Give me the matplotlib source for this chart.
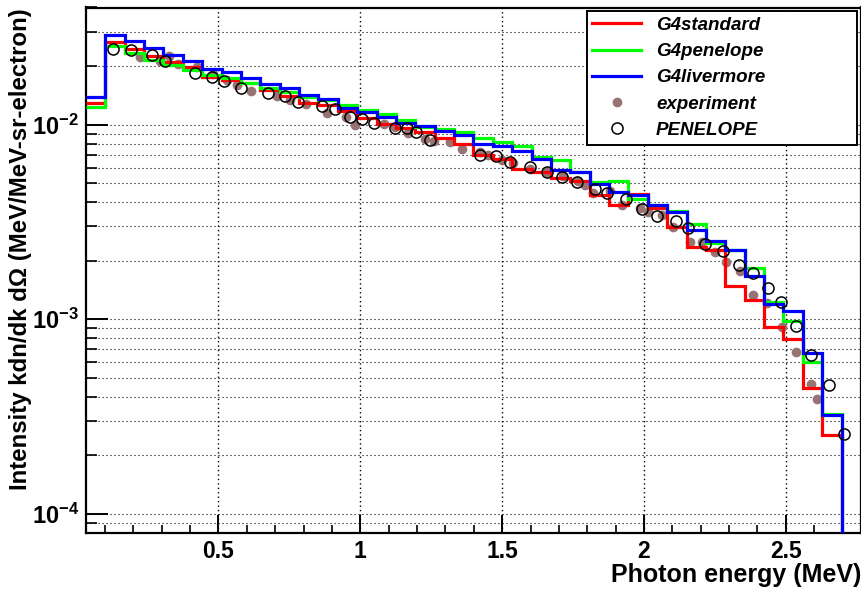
import numpy as np
import matplotlib
matplotlib.use("Agg")
import matplotlib.pyplot as plt
from matplotlib.ticker import FixedLocator, NullFormatter, FuncFormatter, MultipleLocator, LogLocator
from matplotlib.lines import Line2D

plt.rcParams['font.family'] = ['Liberation Sans', 'DejaVu Sans']
plt.rcParams['font.weight'] = 'bold'
plt.rcParams['mathtext.fontset'] = 'custom'
plt.rcParams['mathtext.rm'] = 'Liberation Sans:bold'
plt.rcParams['mathtext.bf'] = 'Liberation Sans:bold'
plt.rcParams['mathtext.it'] = 'Liberation Sans:bold:italic'

# ---- data ----
hist_range = (0.033, 2.765)
n_bins = 40

g4standard = [0.01285, 0.02667, 0.02455, 0.02252, 0.02104, 0.01989, 0.01762, 0.01694,
              0.01629, 0.01505, 0.01410, 0.01298, 0.01260, 0.01173, 0.01076, 0.01002,
              0.00956, 0.00912, 0.00849, 0.00791, 0.00697, 0.00670, 0.00590, 0.00572,
              0.00534, 0.00512, 0.00434, 0.00385, 0.00442, 0.00374, 0.00297, 0.00236,
              0.00227, 0.00149, 0.00126, 0.000911, 0.000793, 0.000444, 0.000254, 0.0]
g4penelope = [0.01226, 0.02550, 0.02325, 0.02148, 0.02024, 0.01908, 0.01798, 0.01729,
              0.01641, 0.01547, 0.01479, 0.01390, 0.01337, 0.01260, 0.01187, 0.01128,
              0.01055, 0.00971, 0.00948, 0.00918, 0.00849, 0.00810, 0.00778, 0.00683,
              0.00657, 0.00572, 0.00508, 0.00512, 0.00414, 0.00385, 0.00361, 0.00307,
              0.00246, 0.00226, 0.00184, 0.00122, 0.000978, 0.000601, 0.000326, 0.0]
g4livermore = [0.01390, 0.02899, 0.02683, 0.02467, 0.02279, 0.02135, 0.01935, 0.01859,
               0.01735, 0.01626, 0.01542, 0.01414, 0.01353, 0.01212, 0.01160, 0.01097,
               0.01014, 0.00982, 0.00926, 0.00883, 0.00800, 0.00778, 0.00731, 0.00665,
               0.00583, 0.00569, 0.00498, 0.00451, 0.00434, 0.00388, 0.00356, 0.00286,
               0.00251, 0.00226, 0.00167, 0.00120, 0.00110, 0.000672, 0.000322, 0.0]

exp_E = [0.224, 0.295, 0.327, 0.358, 0.425, 0.482, 0.531, 0.566, 0.616, 0.707, 0.753,
         0.809, 0.883, 0.950, 0.982, 1.084, 1.123, 1.169, 1.229, 1.260, 1.317, 1.359,
         1.422, 1.450, 1.500, 1.539, 1.598, 1.658, 1.715, 1.767, 1.792, 1.820, 1.880,
         1.923, 1.986, 2.014, 2.063, 2.102, 2.162, 2.204, 2.250, 2.289, 2.338, 2.384,
         2.433, 2.486, 2.536, 2.588, 2.610]
exp_I = [0.02233, 0.02130, 0.02241, 0.02048, 0.01984, 0.01820, 0.01694, 0.01597, 0.01487,
         0.01402, 0.01337, 0.01275, 0.01146, 0.01093, 0.00994, 0.01006, 0.00971, 0.00904,
         0.00842, 0.00822, 0.00813, 0.00748, 0.00722, 0.00697, 0.00657, 0.00632, 0.00590,
         0.00569, 0.00543, 0.00512, 0.00488, 0.00444, 0.00455, 0.00385, 0.00372, 0.00355,
         0.00342, 0.00297, 0.00249, 0.00249, 0.00221, 0.00196, 0.00178, 0.00133, 0.00121,
         0.000907, 0.000675, 0.000467, 0.000391]

pen_E = [0.127, 0.192, 0.266, 0.313, 0.416, 0.477, 0.521, 0.579, 0.673, 0.735, 0.780,
         0.865, 0.911, 0.962, 1.006, 1.050, 1.123, 1.164, 1.197, 1.246, 1.421, 1.478,
         1.528, 1.598, 1.659, 1.710, 1.763, 1.826, 1.869, 1.937, 1.992, 2.045, 2.113,
         2.156, 2.215, 2.277, 2.334, 2.384, 2.436, 2.483, 2.536, 2.589, 2.653, 2.705]
pen_I = [0.02438, 0.02417, 0.02279, 0.02122, 0.01848, 0.01762, 0.01675, 0.01547, 0.01458,
         0.01407, 0.01311, 0.01250, 0.01197, 0.01089, 0.01067, 0.01014, 0.00963, 0.00956,
         0.00918, 0.00832, 0.00702, 0.00693, 0.00646, 0.00607, 0.00572, 0.00539, 0.00510,
         0.00467, 0.00446, 0.00414, 0.00370, 0.00339, 0.00320, 0.00296, 0.00243, 0.00224,
         0.00189, 0.00173, 0.00144, 0.00122, 0.000918, 0.000653, 0.000458, 0.000257]

x_major = [0.5, 1.0, 1.5, 2.0, 2.5]
x_major_labels = ['0.5', '1', '1.5', '2', '2.5']
y_major = [1e-4, 1e-3, 1e-2]

# ---- figure ----
fig = plt.figure(figsize=(8.62, 5.92), dpi=100)
ax = fig.add_axes([86 / 862, 59.3 / 592, 775 / 862, 525.2 / 592])
ax.set_yscale('log')

edges = np.linspace(hist_range[0], hist_range[1], n_bins + 1)

ax.plot(exp_E, exp_I, 'o', color='#987373', markersize=7, markeredgewidth=0,
        zorder=2, label='experiment')
ax.stairs(g4standard, edges, color='#ff0000', lw=2.3, baseline=None, zorder=3,
          label='G4standard')
ax.stairs(g4penelope, edges, color='#00ff00', lw=2.3, baseline=None, zorder=3,
          label='G4penelope')
ax.stairs(g4livermore, edges, color='#0000ff', lw=2.3, baseline=None, zorder=3,
          label='G4livermore')
ax.plot(pen_E, pen_I, 'o', mfc='none', mec='black', markersize=8, markeredgewidth=1.1,
        zorder=4, label='PENELOPE')

ax.set_xlim(*hist_range)
ax.set_ylim(8e-5, 0.04)

# ticks
ax.xaxis.set_major_locator(FixedLocator(x_major))
ax.set_xticklabels(x_major_labels)
ax.xaxis.set_minor_locator(MultipleLocator(0.1))
ax.yaxis.set_major_locator(FixedLocator(y_major))
ax.yaxis.set_minor_locator(LogLocator(base=10, subs=np.arange(2, 10)))
ax.yaxis.set_minor_formatter(NullFormatter())
ax.yaxis.set_major_formatter(FuncFormatter(
    lambda v, p: r'$\mathbf{10^{%d}}$' % int(round(np.log10(v)))))

ax.tick_params(axis='x', which='major', direction='in', length=13, width=1.4,
               labelsize=16.5, pad=5, top=False)
ax.tick_params(axis='x', which='minor', direction='in', length=6, width=1.2, top=False)
ax.tick_params(axis='y', which='major', direction='in', length=16, width=1.4,
               labelsize=17, pad=5, right=False)
ax.tick_params(axis='y', which='minor', direction='in', length=8, width=1.2, right=False)
for lab in ax.get_xticklabels() + ax.get_yticklabels():
    lab.set_fontweight('bold')

for sp in ax.spines.values():
    sp.set_linewidth(1.6)

ax.grid(True, which='major', axis='x', color='black', linestyle=(0, (1, 2.2)), lw=1.0)
ax.grid(True, which='both', axis='y', color='black', linestyle=(0, (1, 2.6)), lw=0.8)
ax.set_axisbelow(True)

fig.text(861 / 862, 1 - 575 / 592, 'Photon energy (MeV)', ha='right', va='center',
         fontsize=18, fontweight='bold')
fig.text(21 / 862, 1 - 8 / 592, 'Intensity kdn/dk d\u03a9 (MeV/MeV-sr-electron)',
         ha='center', va='top', rotation=90, fontsize=17.3, fontweight='bold')

order = ['G4standard', 'G4penelope', 'G4livermore', 'experiment', 'PENELOPE']
leg_handles = [Line2D([], [], color='#ff0000', lw=2.3),
               Line2D([], [], color='#00ff00', lw=2.3),
               Line2D([], [], color='#0000ff', lw=2.3),
               Line2D([], [], ls='none', marker='o', color='#987373', markersize=7,
                      markeredgewidth=0),
               Line2D([], [], ls='none', marker='o', mfc='none', mec='black',
                      markersize=8, markeredgewidth=1.1)]
leg = ax.legend(leg_handles, order, loc='upper left', mode='expand',
                bbox_to_anchor=(586.7 / 862, (592 - 141.7) / 592, (857.3 - 586.7) / 862, 130.7 / 592),
                bbox_transform=fig.transFigure, borderaxespad=0, fancybox=False,
                framealpha=1, edgecolor='black', handlelength=2.6, handletextpad=0.8,
                borderpad=0.3, labelspacing=0.49,
                prop={'family': 'Liberation Sans', 'weight': 'bold', 'style': 'italic', 'size': 13.5})
leg.get_frame().set_linewidth(1.4)
leg.set_zorder(10)

fig.savefig('out.png', dpi=100)
